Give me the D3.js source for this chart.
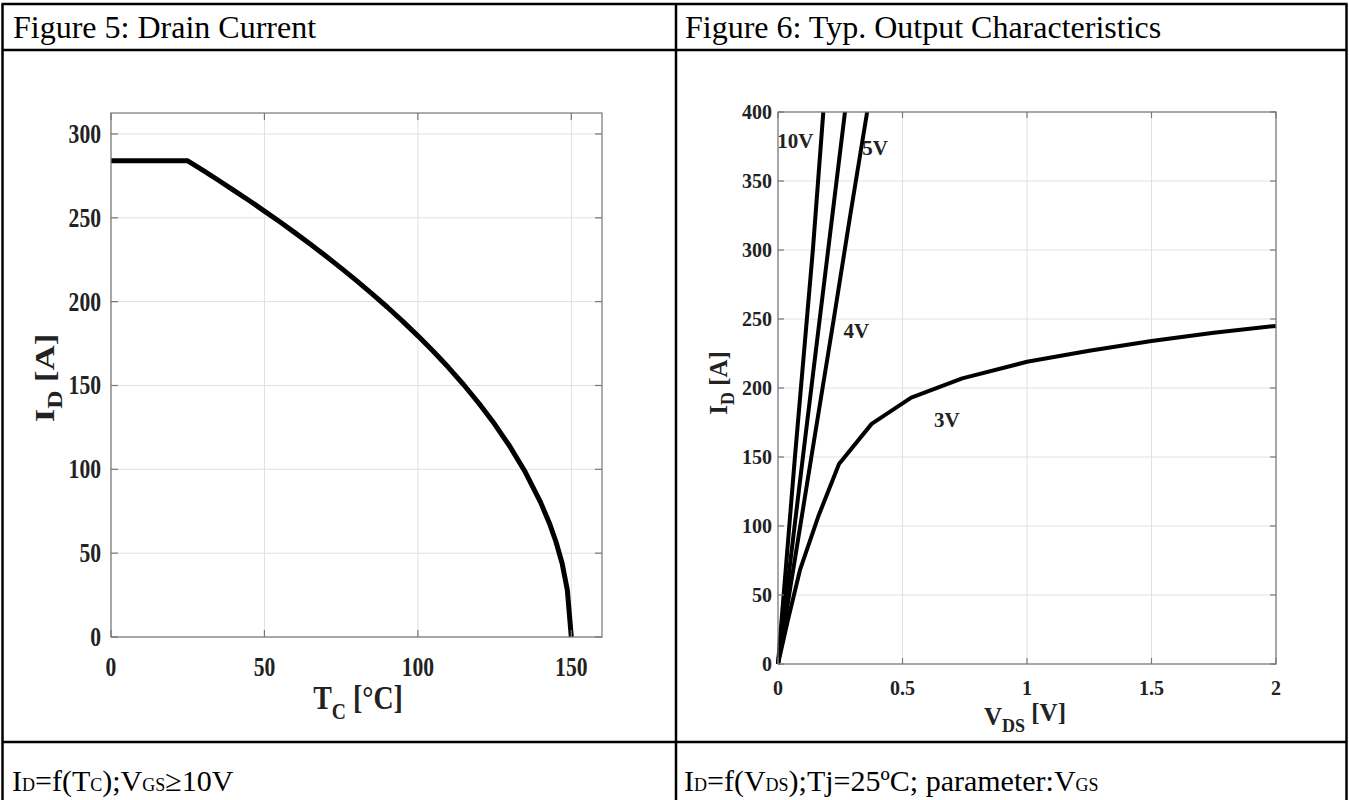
<!DOCTYPE html>
<html><head><meta charset="utf-8">
<script src="https://cdn.jsdelivr.net/npm/d3@7/dist/d3.min.js"></script>
<style>
html,body{margin:0;padding:0;background:#fff;}
svg{display:block;}
</style></head>
<body>
<svg id="c" width="1349" height="800"></svg>
<script>
// ---------- DATA ----------
// Figure 5: Drain current vs case temperature
const tcValues   = [0, 25, 30, 35, 40, 45, 50, 55, 60, 65, 70, 75, 80, 85, 90, 95, 100, 105, 110, 115, 120, 125, 130, 135, 140, 143, 145, 147, 148.7, 150];
const idTcValues = [284, 284, 278.3, 272.4, 266.4, 260.3, 254, 247.6, 241, 234.2, 227.2, 220, 212.5, 204.8, 196.8, 188.4, 179.6, 170.4, 160.7, 150.3, 139.1, 127, 113.6, 98.4, 80.3, 67.2, 56.8, 44, 28, 0];
const fig5XTicks = [0, 50, 100, 150];
const fig5YTicks = [0, 50, 100, 150, 200, 250, 300];

// Figure 6: output characteristics, parameter V_GS
const vgsLabels = ["10V", "5V", "4V", "3V"];
const vds10V = [0, 0.068, 0.116, 0.14, 0.161, 0.182];
const id10V  = [0, 150, 250, 300, 350, 400];
const vds5V  = [0, 0.1, 0.2, 0.269];
const id5V   = [0, 150, 298, 400];
const vds4V  = [0, 0.134, 0.224, 0.29, 0.358];
const id4V   = [0, 150, 250, 325, 400];
const vds3V  = [0, 0.04, 0.088, 0.162, 0.245, 0.376, 0.535, 0.74, 1.0, 1.25, 1.5, 1.75, 2.0];
const id3V   = [0, 32, 68, 107, 145, 174, 193, 207, 219, 227, 234, 240, 245];
const fig6XTicks = [0, 0.5, 1, 1.5, 2];
const fig6YTicks = [0, 50, 100, 150, 200, 250, 300, 350, 400];

// ---------- DRAW ----------
const svg = d3.select("#c");
const serif = "'Liberation Serif','Times New Roman',serif";

// table
const T = {l: 2.5, r: 1346.5, t: 4, h: 50, b: 742, d: 676, bottom: 806};
const tbl = svg.append("g").attr("stroke", "#000").attr("stroke-width", 2.5);
tbl.append("line").attr("x1", T.l-1).attr("x2", T.r+1).attr("y1", T.t).attr("y2", T.t);
tbl.append("line").attr("x1", T.l).attr("x2", T.r).attr("y1", T.h).attr("y2", T.h);
tbl.append("line").attr("x1", T.l).attr("x2", T.r).attr("y1", T.b).attr("y2", T.b);
tbl.append("line").attr("x1", T.l).attr("x2", T.l).attr("y1", T.t).attr("y2", T.bottom);
tbl.append("line").attr("x1", T.r).attr("x2", T.r).attr("y1", T.t).attr("y2", T.bottom);
tbl.append("line").attr("x1", T.d).attr("x2", T.d).attr("y1", T.t).attr("y2", T.bottom);

svg.append("text").attr("x", 13).attr("y", 38).attr("font-family", serif).attr("font-size", 32)
  .text("Figure 5: Drain Current");
svg.append("text").attr("x", 685).attr("y", 38).attr("font-family", serif).attr("font-size", 32)
  .text("Figure 6: Typ. Output Characteristics");

// footers
(function(){
  const fs = 30, ss = 18;
  const t = svg.append("text").attr("x", 12).attr("y", 791).attr("font-family", serif).attr("font-size", fs);
  t.append("tspan").text("I");
  t.append("tspan").text("D").attr("font-size", ss);
  t.append("tspan").text("=f(T");
  t.append("tspan").text("C").attr("font-size", ss);
  t.append("tspan").text(");V");
  t.append("tspan").text("GS").attr("font-size", ss);
  t.append("tspan").text("≥10V");
  const u = svg.append("text").attr("x", 684).attr("y", 791).attr("font-family", serif).attr("font-size", fs);
  u.append("tspan").text("I");
  u.append("tspan").text("D").attr("font-size", ss);
  u.append("tspan").text("=f(V");
  u.append("tspan").text("DS").attr("font-size", ss);
  u.append("tspan").text(");Tj=25ºC; parameter:V");
  u.append("tspan").text("GS").attr("font-size", ss);
})();

function frame(g, x, y, xTicks, yTicks) {
  const [x0, x1] = x.range(), [y0, y1] = y.range();
  g.append("g").selectAll("line").data(xTicks).join("line")
    .attr("x1", d => x(d)).attr("x2", d => x(d)).attr("y1", y0).attr("y2", y1)
    .attr("stroke", "#e0e0e0").attr("stroke-width", 1);
  g.append("g").selectAll("line").data(yTicks).join("line")
    .attr("y1", d => y(d)).attr("y2", d => y(d)).attr("x1", x0).attr("x2", x1)
    .attr("stroke", "#e0e0e0").attr("stroke-width", 1);
}
function box(g, x, y, xTicks, yTicks, tickLen) {
  const [x0, x1] = x.range(), [y0, y1] = y.range();
  const ax = g.append("g").attr("stroke", "#777").attr("stroke-width", 1.2);
  ax.append("rect").attr("x", x0).attr("y", y1).attr("width", x1 - x0).attr("height", y0 - y1).attr("fill", "none");
  ax.append("g").selectAll("line").data(xTicks).join("line").attr("x1", d => x(d)).attr("x2", d => x(d)).attr("y1", y0).attr("y2", y0 - tickLen);
  ax.append("g").selectAll("line").data(xTicks).join("line").attr("x1", d => x(d)).attr("x2", d => x(d)).attr("y1", y1).attr("y2", y1 + tickLen);
  ax.append("g").selectAll("line").data(yTicks).join("line").attr("y1", d => y(d)).attr("y2", d => y(d)).attr("x1", x0).attr("x2", x0 + tickLen);
  ax.append("g").selectAll("line").data(yTicks).join("line").attr("y1", d => y(d)).attr("y2", d => y(d)).attr("x1", x1).attr("x2", x1 - tickLen);
}

// ---- Figure 5 ----
const x5 = d3.scaleLinear().domain([0, 160]).range([111, 602]);
const y5 = d3.scaleLinear().domain([0, 312.5]).range([637, 113]);
const g5 = svg.append("g");
frame(g5, x5, y5, fig5XTicks, fig5YTicks);
const d5 = tcValues.map((t, i) => [t, idTcValues[i]]);
g5.append("path").datum(d5).attr("fill", "none").attr("stroke", "#000").attr("stroke-width", 5)
  .attr("stroke-linejoin", "round")
  .attr("d", d3.line().x(d => x5(d[0])).y(d => y5(d[1])));
box(g5, x5, y5, fig5XTicks, fig5YTicks, 7);

const lab5 = svg.append("g").attr("font-family", serif).attr("font-weight", "bold").attr("font-size", 27).attr("fill", "#222");
lab5.selectAll("text.y").data(fig5YTicks).join("text")
  .attr("text-anchor", "end")
  .attr("transform", d => `translate(101,${y5(d) + 9}) scale(0.8,1)`)
  .text(d => d);
lab5.selectAll("text.x").data(fig5XTicks).join("text")
  .attr("text-anchor", "middle")
  .attr("transform", d => `translate(${x5(d)},${676}) scale(0.8,1)`)
  .text(d => d);
(function(){
  const t = svg.append("text").attr("font-family", serif).attr("font-weight", "bold").attr("font-size", 33).attr("fill", "#222")
    .attr("text-anchor", "middle").attr("transform", "translate(54,378) rotate(-90) scale(1.05,0.85)");
  t.append("tspan").text("I");
  t.append("tspan").text("D").attr("font-size", 24).attr("dy", 9);
  t.append("tspan").text(" [A]").attr("dy", -9);
  const u = svg.append("text").attr("font-family", serif).attr("font-weight", "bold").attr("font-size", 34).attr("fill", "#222")
    .attr("text-anchor", "middle").attr("transform", "translate(358,709) scale(0.82,1)");
  u.append("tspan").text("T");
  u.append("tspan").text("C").attr("font-size", 24).attr("dy", 10);
  u.append("tspan").text(" [°C]").attr("dy", -10);
})();

// ---- Figure 6 ----
const x6 = d3.scaleLinear().domain([0, 2]).range([778, 1276]);
const y6 = d3.scaleLinear().domain([0, 400]).range([664, 112]);
const g6 = svg.append("g");
frame(g6, x6, y6, fig6XTicks, fig6YTicks);
const series6 = [
  vds10V.map((v, i) => [v, id10V[i]]),
  vds5V.map((v, i) => [v, id5V[i]]),
  vds4V.map((v, i) => [v, id4V[i]]),
  vds3V.map((v, i) => [v, id3V[i]])
];
g6.selectAll("path.s").data(series6).join("path").attr("fill", "none").attr("stroke", "#000")
  .attr("stroke-width", 4).attr("stroke-linejoin", "round")
  .attr("d", d3.line().x(d => x6(d[0])).y(d => y6(d[1])));
box(g6, x6, y6, fig6XTicks, fig6YTicks, 6);

const lab6 = svg.append("g").attr("font-family", serif).attr("font-weight", "bold").attr("font-size", 20).attr("fill", "#222");
lab6.selectAll("text.y").data(fig6YTicks).join("text")
  .attr("text-anchor", "end").attr("x", 772).attr("y", d => y6(d) + 7).text(d => d);
lab6.selectAll("text.x").data(fig6XTicks).join("text")
  .attr("text-anchor", "middle").attr("x", d => x6(d)).attr("y", 695).text(d => d);

// curve labels (anchored in data coordinates)
const curveLabelPos = [[0.07, 374], [0.39, 369], [0.315, 236], [0.678, 172]];
lab6.selectAll("text.cl").data(vgsLabels).join("text")
  .attr("font-size", 21).attr("text-anchor", "middle")
  .attr("x", (d, i) => x6(curveLabelPos[i][0])).attr("y", (d, i) => y6(curveLabelPos[i][1]))
  .text(d => d);

(function(){
  const t = svg.append("text").attr("font-family", serif).attr("font-weight", "bold").attr("font-size", 25).attr("fill", "#222")
    .attr("text-anchor", "middle").attr("transform", "translate(727,383) rotate(-90)");
  t.append("tspan").text("I");
  t.append("tspan").text("D").attr("font-size", 18).attr("dy", 7);
  t.append("tspan").text(" [A]").attr("dy", -7);
  const u = svg.append("text").attr("font-family", serif).attr("font-weight", "bold").attr("font-size", 25).attr("fill", "#222")
    .attr("text-anchor", "middle").attr("transform", "translate(1025,725)");
  u.append("tspan").text("V");
  u.append("tspan").text("DS").attr("font-size", 18).attr("dy", 7);
  u.append("tspan").text(" [V]").attr("dy", -11);
})();
</script>
</body></html>
